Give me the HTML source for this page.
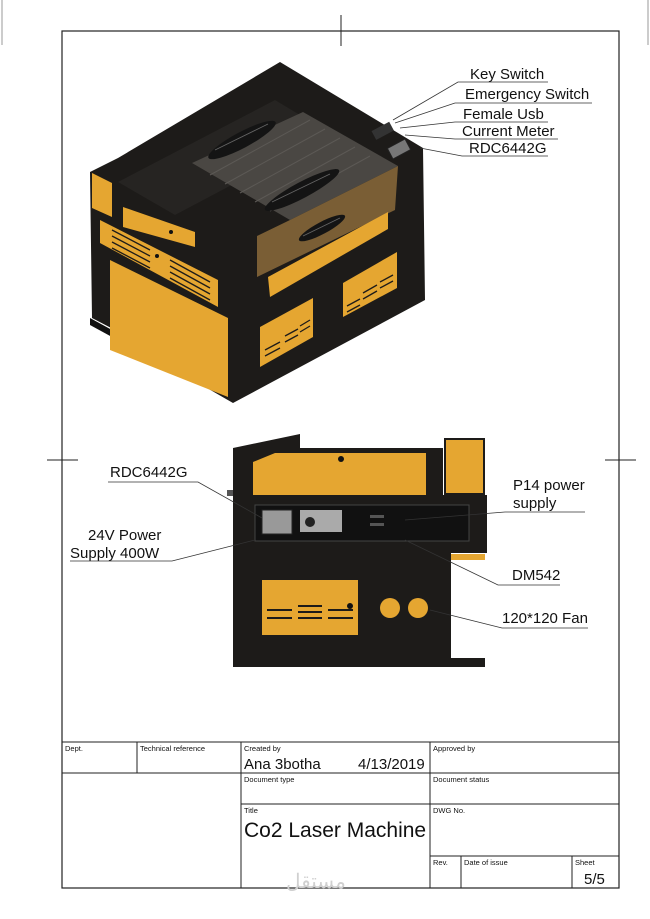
<!DOCTYPE html>
<html><head><meta charset="utf-8"><style>
html,body{margin:0;padding:0;background:#fff;}
svg{display:block;}
text{font-family:"Liberation Sans",sans-serif;fill:#111;}
</style></head><body>
<svg width="650" height="919" viewBox="0 0 650 919" xmlns="http://www.w3.org/2000/svg">
<rect width="650" height="919" fill="#fff"/>
<rect x="62" y="31" width="557" height="857" fill="none" stroke="#222" stroke-width="1.2"/>
<line x1="341" y1="15" x2="341" y2="46" stroke="#222"/>
<line x1="47" y1="460" x2="78" y2="460" stroke="#222"/>
<line x1="605" y1="460" x2="636" y2="460" stroke="#222"/>
<line x1="2" y1="0" x2="2" y2="45" stroke="#999"/>
<line x1="648" y1="0" x2="648" y2="45" stroke="#999"/>

<!-- ISO machine -->
<polygon points="280,62 423,148 425,300 233,403 115,335 115,330 92,318 90,172 118,158" fill="#1d1b19"/>
<polygon points="90,318 112,330 112,337 90,325" fill="#111"/>
<polygon points="118,182 275,100 330,133 175,215" fill="#262422"/>
<!-- glass -->
<polygon points="303,112 398,166 290,220 192,163" fill="#4a4743"/>
<polygon points="290,220 398,166 395,210 257,277 257,236" fill="#7a5e35"/>
<g stroke="#5c5955" stroke-width="1">
<line x1="210" y1="175" x2="310" y2="120"/><line x1="225" y1="184" x2="325" y2="129"/>
<line x1="240" y1="193" x2="340" y2="138"/><line x1="255" y1="202" x2="355" y2="147"/>
<line x1="270" y1="211" x2="370" y2="156"/>
</g>
<g>
<ellipse cx="242" cy="140" rx="38" ry="8" transform="rotate(-28 242 140)" fill="#141414"/>
<ellipse cx="302" cy="190" rx="42" ry="8" transform="rotate(-28 302 190)" fill="#141414"/>
<ellipse cx="322" cy="228" rx="26" ry="6" transform="rotate(-28 322 228)" fill="#141414"/>
</g>
<g stroke="#666" stroke-width="0.8">
<line x1="215" y1="150" x2="268" y2="124"/><line x1="272" y1="202" x2="330" y2="174"/><line x1="303" y1="236" x2="340" y2="218"/>
</g>
<rect x="372" y="127" width="20" height="10" fill="#333" transform="rotate(-28 380 130)"/>
<rect x="389" y="143" width="20" height="12" fill="#777" stroke="#222" transform="rotate(-28 399 149)"/>
<g fill="#e5a631">
<polygon points="92,173 112,183 112,217 92,208"/>
<polygon points="123,207 195,232 195,247 123,227"/>
<polygon points="100,220 218,280 218,307 100,243"/>
<polygon points="110,260 228,318 228,397 110,350"/>
<polygon points="268,277 388,212 388,229 270,297"/>
<polygon points="260,327 313,298 313,337 260,367"/>
<polygon points="343,283 397,252 397,288 343,317"/>
</g>
<g stroke="#1d1b19" stroke-width="1.3">
<line x1="112" y1="230" x2="150" y2="250"/><line x1="112" y1="236" x2="150" y2="256"/>
<line x1="112" y1="242" x2="150" y2="262"/><line x1="112" y1="248" x2="150" y2="268"/>
<line x1="112" y1="254" x2="150" y2="274"/><line x1="170" y1="260" x2="210" y2="282"/>
<line x1="170" y1="266" x2="210" y2="288"/><line x1="170" y1="272" x2="210" y2="294"/>
<line x1="170" y1="278" x2="210" y2="300"/>
<line x1="265" y1="350" x2="280" y2="342"/><line x1="265" y1="356" x2="280" y2="348"/>
<line x1="285" y1="336" x2="298" y2="329"/><line x1="285" y1="342" x2="298" y2="335"/>
<line x1="300" y1="326" x2="310" y2="320"/><line x1="300" y1="332" x2="310" y2="326"/>
<line x1="347" y1="306" x2="360" y2="299"/><line x1="347" y1="312" x2="360" y2="305"/>
<line x1="363" y1="293" x2="377" y2="285"/><line x1="363" y1="299" x2="377" y2="291"/>
<line x1="380" y1="282" x2="393" y2="275"/><line x1="380" y1="288" x2="393" y2="281"/>
</g>
<circle cx="171" cy="232" r="2" fill="#111"/><circle cx="157" cy="256" r="2" fill="#111"/>
<g font-size="15">
<text x="470" y="79">Key Switch</text>
<text x="465" y="99">Emergency Switch</text>
<text x="463" y="119">Female Usb</text>
<text x="462" y="136">Current Meter</text>
<text x="469" y="153">RDC6442G</text>
</g>
<g stroke="#333" stroke-width="0.8" fill="none">
<polyline points="393,120 458,82 548,82"/>
<polyline points="395,123 455,103 592,103"/>
<polyline points="400,128 455,122 548,122"/>
<polyline points="405,135 455,139 558,139"/>
<polyline points="420,148 462,156 548,156"/>
</g>

<!-- Front/side view -->
<rect x="233" y="448" width="210" height="48" fill="#1d1b19"/>
<polygon points="233,448 300,434 300,448" fill="#1d1b19"/>
<rect x="444" y="438" width="41" height="57" fill="#1d1b19"/>
<rect x="446" y="440" width="37" height="53" fill="#e5a631"/>
<polygon points="253,462 275,453 426,453 426,495 253,495" fill="#e5a631"/>
<circle cx="341" cy="459" r="3" fill="#111"/>
<rect x="233" y="495" width="254" height="58" fill="#1d1b19"/>
<rect x="255" y="505" width="214" height="36" fill="#111" stroke="#444"/>
<rect x="262" y="510" width="30" height="24" fill="#999" stroke="#222"/>
<rect x="300" y="510" width="42" height="22" fill="#aaa"/>
<circle cx="310" cy="522" r="5" fill="#222"/>
<rect x="370" y="515" width="14" height="3" fill="#555"/>
<rect x="370" y="523" width="14" height="3" fill="#555"/>
<rect x="227" y="490" width="6" height="6" fill="#555"/>
<rect x="233" y="553" width="218" height="114" fill="#1d1b19"/>
<rect x="451" y="554" width="34" height="6" fill="#e5a631"/>
<rect x="451" y="658" width="34" height="9" fill="#1d1b19"/>
<rect x="262" y="580" width="96" height="55" fill="#e5a631"/>
<circle cx="350" cy="606" r="3" fill="#111"/>
<g stroke="#1d1b19" stroke-width="2">
<line x1="267" y1="610" x2="292" y2="610"/><line x1="267" y1="618" x2="292" y2="618"/>
<line x1="298" y1="606" x2="322" y2="606"/><line x1="298" y1="612" x2="322" y2="612"/><line x1="298" y1="618" x2="322" y2="618"/>
<line x1="328" y1="610" x2="353" y2="610"/><line x1="328" y1="618" x2="353" y2="618"/>
</g>
<circle cx="390" cy="608" r="10" fill="#e5a631"/>
<circle cx="418" cy="608" r="10" fill="#e5a631"/>
<g font-size="15">
<text x="110" y="477">RDC6442G</text>
<text x="88" y="540">24V Power</text>
<text x="70" y="558">Supply 400W</text>
<text x="513" y="490">P14 power</text>
<text x="513" y="508">supply</text>
<text x="512" y="580">DM542</text>
<text x="502" y="623">120*120 Fan</text>
</g>
<g stroke="#333" stroke-width="0.8" fill="none">
<polyline points="108,482 198,482 262,518"/>
<polyline points="70,561 172,561 255,540"/>
<polyline points="585,512 505,512 405,520"/>
<polyline points="560,585 498,585 405,540"/>
<polyline points="588,628 502,628 430,610"/>
</g>

<!-- title block -->
<g stroke="#222" stroke-width="1" fill="none">
<line x1="62" y1="742" x2="619" y2="742"/>
<line x1="62" y1="773" x2="619" y2="773"/>
<line x1="241" y1="804" x2="619" y2="804"/>
<line x1="430" y1="856" x2="619" y2="856"/>
<line x1="137" y1="742" x2="137" y2="773"/>
<line x1="241" y1="742" x2="241" y2="888"/>
<line x1="430" y1="742" x2="430" y2="888"/>
<line x1="461" y1="856" x2="461" y2="888"/>
<line x1="572" y1="856" x2="572" y2="888"/>
</g>
<g font-size="7.5">
<text x="65" y="751">Dept.</text>
<text x="140" y="751">Technical reference</text>
<text x="244" y="751">Created by</text>
<text x="433" y="751">Approved by</text>
<text x="244" y="782">Document type</text>
<text x="433" y="782">Document status</text>
<text x="244" y="813">Title</text>
<text x="433" y="813">DWG No.</text>
<text x="433" y="865">Rev.</text>
<text x="464" y="865">Date of issue</text>
<text x="575" y="865">Sheet</text>
</g>
<text x="244" y="769" font-size="15">Ana 3botha</text>
<text x="358" y="769" font-size="15">4/13/2019</text>
<text x="244" y="837" font-size="21">Co2 Laser Machine</text>
<text x="584" y="884" font-size="15">5/5</text>
<text x="286" y="888" font-size="20" style="fill:#d0d0d0">مستقل</text>
</svg>
</body></html>
